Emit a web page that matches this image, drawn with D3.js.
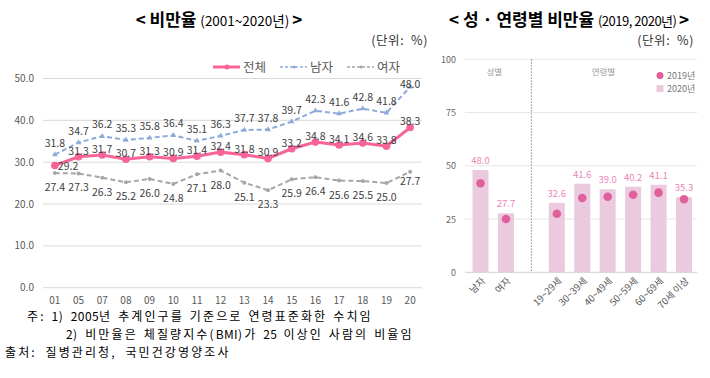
<!DOCTYPE html>
<html><head><meta charset="utf-8">
<script src="https://cdn.jsdelivr.net/npm/d3@7"></script>
<style>
html,body{margin:0;padding:0;background:#fff;}
svg{display:block;font-family:"Noto Sans CJK KR","Noto Sans",sans-serif;}
</style></head><body>
<svg id="c" width="710" height="378"></svg>
<script>
// ---- Left chart data ----
const years = ["01","05","07","08","09","10","11","12","13","14","15","16","17","18","19","20"];
const total = [29.2,31.3,31.7,30.7,31.3,30.9,31.4,32.4,31.8,30.9,33.2,34.8,34.1,34.6,33.8,38.3];
const male  = [31.8,34.7,36.2,35.3,35.8,36.4,35.1,36.3,37.7,37.8,39.7,42.3,41.6,42.8,41.8,48.0];
const female= [27.4,27.3,26.3,25.2,26.0,24.8,27.1,28.0,25.1,23.3,25.9,26.4,25.6,25.5,25.0,27.7];
const leftTicks = [0,10,20,30,40,50];
const seriesNames = ["전체","남자","여자"];

// ---- Right chart data ----
const groups = ["남자","여자","","19~29세","30~39세","40~49세","50~59세","60~69세","70세 이상"];
const v2020 = [48.0,27.7,null,32.6,41.6,39.0,40.2,41.1,35.3];
const v2019 = [41.8,25.0,null,27.5,34.9,35.5,36.4,37.4,34.3];
const rightTicks = [0,25,50,75,100];
const legendRight = ["2019년","2020년"];

const notes = [
  "주: 1) 2005년 추계인구를 기준으로 연령표준화한 수치임",
  "2) 비만율은 체질량지수(BMI)가 25 이상인 사람의 비율임",
  "출처: 질병관리청, 국민건강영양조사"
];

const svg = d3.select("#c");

// ================= LEFT =================
const lx = d3.scaleBand().domain(years).range([43,422]).padding(0);
const ly = d3.scaleLinear().domain([0,50]).range([287.7,78.5]);

// title
const t1 = svg.append("text").attr("x",219).attr("y",26).attr("text-anchor","middle").attr("fill","#000");
t1.append("tspan").attr("font-size",17).attr("font-weight","bold").text("< 비만율 ");
t1.append("tspan").attr("font-size",13.5).text("(2001~2020년) ");
t1.append("tspan").attr("font-size",17).attr("font-weight","bold").text(">");
svg.append("text").attr("x",428).attr("y",45).attr("text-anchor","end").attr("font-size",12.5)
  .attr("letter-spacing",0.6).attr("fill","#333").text("(단위:\u00a0\u00a0%)");

// grid
svg.append("g").selectAll("line").data(leftTicks).join("line")
  .attr("x1",43).attr("x2",422).attr("y1",d=>ly(d)).attr("y2",d=>ly(d))
  .attr("stroke","#d9d9d9").attr("stroke-width",1);
svg.append("g").selectAll("text").data(leftTicks).join("text")
  .attr("x",34).attr("y",d=>ly(d)+3.5).attr("text-anchor","end")
  .attr("font-size",10).attr("fill","#595959").text(d=>d.toFixed(1));
svg.append("g").selectAll("text").data(years).join("text")
  .attr("x",d=>lx(d)+lx.bandwidth()/2).attr("y",304).attr("text-anchor","middle")
  .attr("font-size",10).attr("fill","#595959").text(d=>d);

const cx = (d,i)=>lx(years[i])+lx.bandwidth()/2;
const lineGen = d3.line().x((d,i)=>cx(d,i)).y(d=>ly(d));

const colors = {total:"#f8649a", male:"#8eaadb", female:"#a6a6a6"};

// female
svg.append("path").datum(female).attr("d",lineGen).attr("fill","none")
  .attr("stroke",colors.female).attr("stroke-width",2).attr("stroke-dasharray","5,3");
svg.append("g").selectAll("circle").data(female).join("circle")
  .attr("cx",cx).attr("cy",d=>ly(d)).attr("r",2).attr("fill",colors.female);
// male
svg.append("path").datum(male).attr("d",lineGen).attr("fill","none")
  .attr("stroke",colors.male).attr("stroke-width",2).attr("stroke-dasharray","5,3");
svg.append("g").selectAll("path").data(male).join("path")
  .attr("d",d3.symbol(d3.symbolTriangle,14)).attr("transform",(d,i)=>`translate(${cx(d,i)},${ly(d)})`)
  .attr("fill",colors.male);
// total
svg.append("path").datum(total).attr("d",lineGen).attr("fill","none")
  .attr("stroke",colors.total).attr("stroke-width",3);
svg.append("g").selectAll("circle").data(total).join("circle")
  .attr("cx",cx).attr("cy",d=>ly(d)).attr("r",3.8).attr("fill",colors.total);

// data labels
const lblFont = 10.5, lblCol = "#404040";
svg.append("g").selectAll("text").data(total).join("text")
  .attr("x",(d,i)=> i===0 ? cx(d,i)+3 : cx(d,i))
  .attr("y",(d,i)=> i===0 ? ly(d)+4.5 : ly(d)-2)
  .attr("text-anchor",(d,i)=> i===0 ? "start":"middle")
  .attr("font-size",lblFont).attr("fill",lblCol).text(d=>d.toFixed(1));
svg.append("g").selectAll("text").data(male).join("text")
  .attr("x",cx).attr("y",(d,i)=> i===years.length-1 ? ly(d)+1 : ly(d)-8)
  .attr("text-anchor","middle").attr("font-size",lblFont).attr("fill",lblCol).text(d=>d.toFixed(1));
svg.append("g").selectAll("text").data(female).join("text")
  .attr("x",cx).attr("y",(d,i)=> i===years.length-1 ? ly(d)+13 : ly(d)+18)
  .attr("text-anchor","middle").attr("font-size",lblFont).attr("fill",lblCol).text(d=>d.toFixed(1));

// legend
const lg = svg.append("g");
const legItems = [
  {n:seriesNames[0], c:colors.total, w:3, dash:null, x:213},
  {n:seriesNames[1], c:colors.male, w:1.5, dash:"3,2", x:280},
  {n:seriesNames[2], c:colors.female, w:1.5, dash:"3,2", x:347}
];
legItems.forEach(it=>{
  lg.append("line").attr("x1",it.x).attr("x2",it.x+27).attr("y1",67).attr("y2",67)
    .attr("stroke",it.c).attr("stroke-width",it.w).attr("stroke-dasharray",it.dash);
  lg.append("circle").attr("cx",it.x+14).attr("cy",67).attr("r",it.w===3?2.5:1.5).attr("fill",it.c);
  lg.append("text").attr("x",it.x+30).attr("y",71.5).attr("font-size",12.5).attr("fill","#595959").text(it.n);
});

// footnotes: Korean spaced, digits/latin tight
function note(str, x, y, ws){
  const t = svg.append("text").attr("x",x).attr("y",y).attr("font-size",12).attr("fill","#000")
    .attr("letter-spacing",2.1).attr("word-spacing",ws);
  str.split(/([0-9A-Za-z]+)/).forEach(part=>{
    if(!part) return;
    const sp = t.append("tspan").text(part);
    if(/^[0-9A-Za-z]+$/.test(part)) sp.attr("letter-spacing",0.4);
  });
}
note(notes[0], 27, 321, 1.2);
note(notes[1], 66, 339, 1.2);
note(notes[2], 5, 357, 4);

// ================= RIGHT =================
const rx = d3.scaleBand().domain(groups).range([467.8,696.7]).padding(0.37).paddingOuter(0.185);
const ry = d3.scaleLinear().domain([0,100]).range([272.3,59.3]);
const rc = g => rx(g)+rx.bandwidth()/2;

const t2 = svg.append("text").attr("x",569).attr("y",26).attr("text-anchor","middle").attr("fill","#000");
t2.append("tspan").attr("font-size",17).attr("font-weight","bold").text("< 성 · 연령별 비만율 ");
t2.append("tspan").attr("font-size",13).attr("letter-spacing",-0.5).text("(2019, 2020년) ");
t2.append("tspan").attr("font-size",17).attr("font-weight","bold").text(">");
svg.append("text").attr("x",694).attr("y",45).attr("text-anchor","end").attr("font-size",12.5)
  .attr("letter-spacing",0.6).attr("fill","#333").text("(단위:\u00a0\u00a0%)");

svg.append("g").selectAll("line").data(rightTicks).join("line")
  .attr("x1",465).attr("x2",697).attr("y1",d=>ry(d)).attr("y2",d=>ry(d))
  .attr("stroke",d=>d===0?"#d0d0d0":"#e6e6e6").attr("stroke-width",1);
svg.append("g").selectAll("text").data(rightTicks).join("text")
  .attr("x",456).attr("y",d=>ry(d)+3.5).attr("text-anchor","end")
  .attr("font-size",9).attr("fill","#666").text(d=>d);

// divider at spacer slot
svg.append("line").attr("x1",rc("")).attr("x2",rc("")).attr("y1",ry(100)).attr("y2",ry(0))
  .attr("stroke","#888").attr("stroke-width",1).attr("stroke-dasharray","1.5,1.5");
svg.append("text").attr("x",(rc("남자")+rc("여자"))/2+1).attr("y",ry(100)+16).attr("text-anchor","middle")
  .attr("font-size",8.5).attr("fill","#999").text("성별");
svg.append("text").attr("x",(rc("19~29세")+rc("70세 이상"))/2-17).attr("y",ry(100)+16).attr("text-anchor","middle")
  .attr("font-size",8.5).attr("fill","#999").text("연령별");

const rdata = groups.map((g,i)=>({g, a:v2020[i], b:v2019[i]})).filter(d=>d.g!=="");
svg.append("g").selectAll("rect").data(rdata).join("rect")
  .attr("x",d=>rx(d.g)).attr("width",rx.bandwidth()).attr("y",d=>ry(d.a)).attr("height",d=>ry(0)-ry(d.a))
  .attr("fill","#ebcae0");
svg.append("g").selectAll("circle").data(rdata).join("circle")
  .attr("cx",d=>rc(d.g)).attr("cy",d=>ry(d.b)).attr("r",4.3).attr("fill","#e0609b");
svg.append("g").selectAll("text").data(rdata).join("text")
  .attr("x",d=>rc(d.g)).attr("y",d=>ry(d.a)-6).attr("text-anchor","middle")
  .attr("font-size",9.5).attr("fill","#ea86b8").text(d=>d.a.toFixed(1));
svg.append("g").selectAll("text").data(rdata).join("text")
  .attr("transform",d=>`translate(${rc(d.g)+3},${ry(0)+7}) rotate(-45)`)
  .attr("text-anchor","end").attr("dy","0.35em")
  .attr("font-size",9.5).attr("fill","#555").text(d=>d.g);

// right legend
svg.append("circle").attr("cx",660).attr("cy",75.5).attr("r",3.5).attr("fill","#e0609b");
svg.append("rect").attr("x",656.5).attr("y",85).attr("width",7).attr("height",7).attr("fill","#ebcae0");
svg.append("text").attr("x",667).attr("y",79).attr("font-size",9).attr("fill","#777").text(legendRight[0]);
svg.append("text").attr("x",667).attr("y",92).attr("font-size",9).attr("fill","#777").text(legendRight[1]);
</script>
</body></html>
